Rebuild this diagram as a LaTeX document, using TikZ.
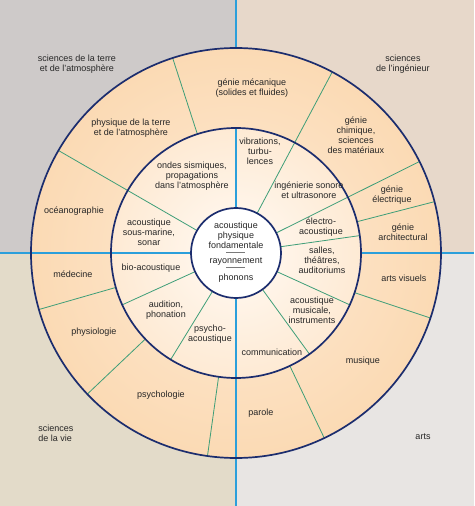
\documentclass[tikz,border=0pt]{standalone}
\usepackage{fontspec}
\setmainfont{Liberation Sans}
\usepackage{xcolor}
\definecolor{QuadEarth}{HTML}{CECAC9}
\definecolor{QuadEngin}{HTML}{E7D8CA}
\definecolor{QuadLife} {HTML}{E3DBC9}
\definecolor{QuadArts} {HTML}{E8E5E3}
\definecolor{RingDeep} {HTML}{FBDAB4}
\definecolor{RingMid}  {HTML}{FEEAD4}
\definecolor{RingPale} {HTML}{FFFAF4}
\definecolor{RingNavy} {HTML}{1C2D6E}
\definecolor{SectGreen}{HTML}{3E9E78}
\definecolor{AxisBlue} {HTML}{2B9FDB}
\definecolor{LabelInk} {HTML}{262626}
\definecolor{RuleGray} {HTML}{7A7A7A}
\usetikzlibrary{calc}

\begin{document}
\begin{tikzpicture}[x=1pt,y=1pt,
  lbl/.style={font=\fontsize{9}{10}\selectfont,text=LabelInk,
    align=center,inner sep=0pt},
  ring/.style={draw=RingNavy,line width=1.7pt},
  sect/.style={draw=SectGreen,line width=0.8pt},
  axis/.style={draw=AxisBlue,line width=1.6pt}]
  \useasboundingbox (-236,-253) rectangle (238,253);
  % Quadrants
  \fill[QuadEarth] (-236,0) rectangle (0,253);
  \fill[QuadEngin] (0,0) rectangle (238,253);
  \fill[QuadLife]  (-236,-253) rectangle (0,0);
  \fill[QuadArts]  (0,-253) rectangle (238,0);
  % Disks
  \shade[inner color=RingMid,outer color=RingDeep] (0,0) circle (205);
  \shade[inner color=RingPale,outer color=RingMid] (0,0) circle (125);
  \fill[white] (0,0) circle (45);
  % Sector lines
  \foreach \a in {150,62,26.5}
    \draw[sect] (\a:45) -- (\a:205);
  \foreach \a in {108,14.5,-18.5,-64.5,262,223.5,196}
    \draw[sect] (\a:125) -- (\a:205);
  \foreach \a in {8,-24.5,-54,238.5,204.5}
    \draw[sect] (\a:45) -- (\a:125);
  % Axes
  \draw[axis] (0,45) -- (0,125) (0,205) -- (0,253);
  \draw[axis] (0,-45) -- (0,-253);
  \draw[axis] (-45,0) -- (-236,0);
  \draw[axis] (125,0) -- (238,0);
  % Circles
  \draw[ring] (0,0) circle (205) (0,0) circle (125) (0,0) circle (45);
  % Domains
  \node[lbl] (earth) at (-159,189) {sciences de la terre\\et de l’atmosphère};
  \node[lbl] (engin) at (167,189) {sciences\\de l’ingénieur};
  \node[lbl,align=left] (life) at (-180,-180) {sciences\\de la vie};
  \node[lbl] (arts) at (187,-184) {arts};
  % Outer ring
  \node[lbl] (mecanique) at (16,165) {génie mécanique\\(solides et fluides)};
  \node[lbl] (physterre) at (-105,125) {physique de la terre\\et de l’atmosphère};
  \node[lbl] (chimique) at (120,118) {génie\\chimique,\\sciences\\des matériaux};
  \node[lbl] (electrique) at (156,58) {génie\\électrique};
  \node[lbl] (archi) at (167,21) {génie\\architectural};
  \node[lbl] (visuels) at (168,-25) {arts visuels};
  \node[lbl] (musique) at (127,-108) {musique};
  \node[lbl] (parole) at (25,-160) {parole};
  \node[lbl] (psycho) at (-75,-142) {psychologie};
  \node[lbl] (physio) at (-142,-79) {physiologie};
  \node[lbl] (medecine) at (-163,-21) {médecine};
  \node[lbl] (oceano) at (-162,42) {océanographie};
  % Inner ring
  \node[lbl] (sismique) at (-44,77) {ondes sismiques,\\propagations\\dans l’atmosphère};
  \node[lbl] (sonar) at (-87,21) {acoustique\\sous-marine,\\sonar};
  \node[lbl] (bio) at (-85,-15) {bio-acoustique};
  \node[lbl] (audition) at (-70,-57) {audition,\\phonation};
  \node[lbl] (psychoac) at (-26,-81) {psycho-\\acoustique};
  \node[lbl] (comm) at (36,-99) {communication};
  \node[lbl] (musicale) at (76,-57) {acoustique\\musicale,\\instruments};
  \node[lbl] (salles) at (86,-7) {salles,\\théâtres,\\auditoriums};
  \node[lbl] (electro) at (85,26) {électro-\\acoustique};
  \node[lbl] (sonore) at (73,63) {ingénierie sonore\\et ultrasonore};
  \node[lbl] (vibr) at (24,102) {vibrations,\\turbu-\\lences};
  % Core
  \node[lbl] (core) at (0,1) {acoustique\\physique\\fondamentale\\[-2pt]
    \textcolor{RuleGray}{\rule[3.3pt]{19pt}{1.1pt}}\\[-3pt]rayonnement\\[-2pt]
    \textcolor{RuleGray}{\rule[3.3pt]{19pt}{1.1pt}}\\[-1pt]phonons};
\end{tikzpicture}
\end{document}
